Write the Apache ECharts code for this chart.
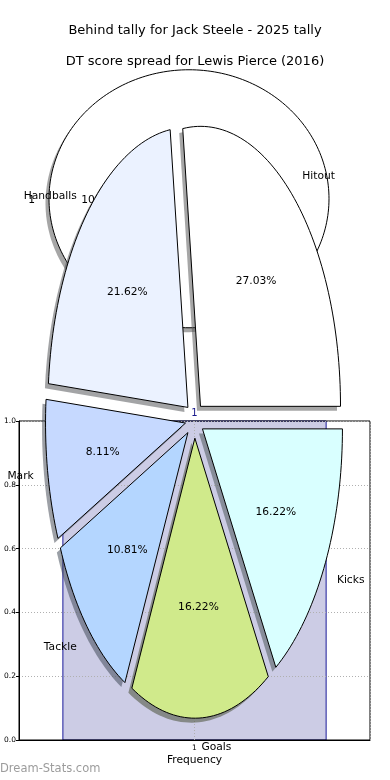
<!DOCTYPE html>
<html><head><meta charset="utf-8">
<script src="https://cdn.jsdelivr.net/npm/echarts@6/dist/echarts.min.js"></script>
<style>html,body{margin:0;padding:0;background:#fff}#c{width:390px;height:780px}</style>
</head><body><div id="c"></div>
<script>
// ---- data ----
const titleMain = 'Behind tally for Jack Steele - 2025 tally';
const titleSub = 'DT score spread for Lewis Pierce (2016)';
const pieLabels = ['Hitout', 'Handballs', 'Mark', 'Tackle', 'Goals', 'Kicks'];
const pieValues = [10, 8, 3, 4, 6, 6];
const pieColors = ['#ffffff', '#ebf2ff', '#c6d9ff', '#b4d6ff', '#d0ea8b', '#d9ffff'];
const pieExplode = [0.065, 0.065, 0.065, 0.065, 0.065, 0.065];
const ghostLabels = ['1'];
const ghostValues = [1];
const ghostColors = ['#ffffff'];
const ghostExplode = [0];
const histBinLeft = [0.625];
const histBinRight = [1.375];
const histCounts = [1];
const xTickLabels = ['1'];
const yTicks = [0, 0.2, 0.4, 0.6, 0.8, 1.0];
const xAxisName = 'Frequency';
const watermark = 'Dream-Stats.com';

// ---- helpers ----
const FONT = '"DejaVu Sans", Verdana, sans-serif';
function hexToRgb(h){h=h.replace('#','');return [parseInt(h.substr(0,2),16),parseInt(h.substr(2,2),16),parseInt(h.substr(4,2),16)];}
function shadowColor(h){const c=hexToRgb(h).map(v=>Math.round(v*0.3));return 'rgba('+c.join(',')+',0.5)';}

function makePieRender(values, labels, colors, explode){
  const total = values.reduce((a,b)=>a+b,0);
  const starts=[]; let acc=0; values.forEach(v=>{starts.push(acc); acc+=v;});
  return function(params, api){
    const i = params.dataIndex;
    const t1 = starts[i]/total*360, t2 = (starts[i]+values[i])/total*360;
    const mid = (t1+t2)/2*Math.PI/180;
    const e = explode[i];
    const cx = e*Math.cos(mid), cy = e*Math.sin(mid);
    const full = (t2-t1) >= 359.999;
    const n = Math.max(12, Math.ceil((t2-t1)/1.5));
    const pts=[];
    if(!full) pts.push(api.coord([cx,cy]));
    for(let k=0;k<=n;k++){
      const a=(t1+(t2-t1)*k/n)*Math.PI/180;
      pts.push(api.coord([cx+Math.cos(a), cy+Math.sin(a)]));
    }
    const sh = pts.map(p=>[p[0]-3.5, p[1]+4.5]);
    const lp = api.coord([cx+1.1*Math.cos(mid), cy+1.1*Math.sin(mid)]);
    const pp = api.coord([cx+0.6*Math.cos(mid), cy+0.6*Math.sin(mid)]);
    const pct = (values[i]/total*100).toFixed(2)+'%';
    return {type:'group', children:[
      {type:'polygon', z2:0, shape:{points:sh}, style:{fill:shadowColor(colors[i]), stroke:null}},
      {type:'polygon', z2:10, shape:{points:pts}, style:{fill:colors[i], stroke:'#000', lineWidth:1}},
      {type:'text', z2:20, x:lp[0], y:lp[1]+1.5, style:{text:labels[i], fill:'#000', font:'10.7px '+FONT,
        align: Math.cos(mid)>0?'left':'right', verticalAlign:'middle'}},
      {type:'text', z2:20, x:pp[0], y:pp[1]+1, style:{text:pct, fill:'#000', font:'10.7px '+FONT,
        align:'center', verticalAlign:'middle'}}
    ]};
  };
}

const chart = echarts.init(document.getElementById('c'), null, {renderer:'canvas'});
const option = {
  animation:false,
  backgroundColor:'#ffffff',
  title:[
    {text:titleMain, left:'center', top:19, textStyle:{fontFamily:FONT, fontSize:13, fontWeight:'normal', color:'#000'}},
    {text:titleSub, left:'center', top:50, textStyle:{fontFamily:FONT, fontSize:13, fontWeight:'normal', color:'#000'}}
  ],
  grid:[
    {left:19, top:421, width:351, height:319, show:true, borderColor:'#000', borderWidth:1, backgroundColor:'transparent'},
    {left:19.5, top:70, width:350, height:700, show:false},
    {left:14, top:37.5, width:350, height:322.5, show:false}
  ],
  xAxis:[
    {gridIndex:0, type:'value', min:0.5, max:1.5, interval:0.5,
      name:xAxisName, nameLocation:'middle', nameGap:15,
      nameTextStyle:{fontFamily:FONT, fontSize:10.7, color:'#000'},
      axisLine:{show:true, lineStyle:{color:'#000', width:1}},
      axisTick:{show:false},
      axisLabel:{fontFamily:FONT, fontSize:7.5, color:'#000', margin:4,
        formatter:v=> Math.abs(v-1)<1e-9 ? xTickLabels[0] : ''},
      splitLine:{show:true, lineStyle:{color:'#b0b0b0', type:[1,2], width:1}}},
    {gridIndex:1, type:'value', min:-1.25, max:1.25, show:false},
    {gridIndex:2, type:'value', min:-1.25, max:1.25, show:false}
  ],
  yAxis:[
    {gridIndex:0, type:'value', min:yTicks[0], max:yTicks[yTicks.length-1], interval:0.2,
      axisLine:{show:true, lineStyle:{color:'#000', width:1}},
      axisTick:{show:true, length:3, lineStyle:{color:'#000'}},
      axisLabel:{fontFamily:FONT, fontSize:7.5, color:'#000', margin:3, formatter:v=>v.toFixed(1)},
      splitLine:{show:true, lineStyle:{color:'#b0b0b0', type:[1,2], width:1}}},
    {gridIndex:1, type:'value', min:-1.25, max:1.25, show:false},
    {gridIndex:2, type:'value', min:-1.25, max:1.25, show:false}
  ],
  graphic:[
    {type:'text', left:0, top:763, silent:true, style:{text:watermark, fill:'#9c9c9c', font:'11.5px '+FONT}}
  ],
  series:[
    {type:'custom', xAxisIndex:0, yAxisIndex:0, z:-1, silent:true,
      data: histBinLeft.map((b,i)=>[b, histBinRight[i], histCounts[i]]),
      renderItem:(params, api)=>{
        const tl = api.coord([api.value(0), api.value(2)]);
        const br = api.coord([api.value(1), 0]);
        const tc = api.coord([(api.value(0)+api.value(1))/2, api.value(2)]);
        return {type:'group', children:[
          {type:'rect', shape:{x:tl[0], y:tl[1], width:br[0]-tl[0], height:br[1]-tl[1]},
            style:{fill:'#ccccE5', stroke:'#1a1a9a', lineWidth:1}},
          {type:'text', z2:30, x:tc[0], y:tc[1]-3, style:{text:String(api.value(2)), fill:'#1a1a8c',
            font:'10px '+FONT, align:'center', verticalAlign:'bottom'}}
        ]};
      }},
    {type:'custom', xAxisIndex:2, yAxisIndex:2, z:4, silent:true,
      data: ghostValues.map(v=>[v]),
      renderItem: makePieRender(ghostValues, ghostLabels, ghostColors, ghostExplode)},
    {type:'custom', xAxisIndex:1, yAxisIndex:1, z:5, silent:true,
      data: pieValues.map(v=>[v]),
      renderItem: makePieRender(pieValues, pieLabels, pieColors, pieExplode)}
  ]
};
chart.setOption(option);
</script>
</body></html>
